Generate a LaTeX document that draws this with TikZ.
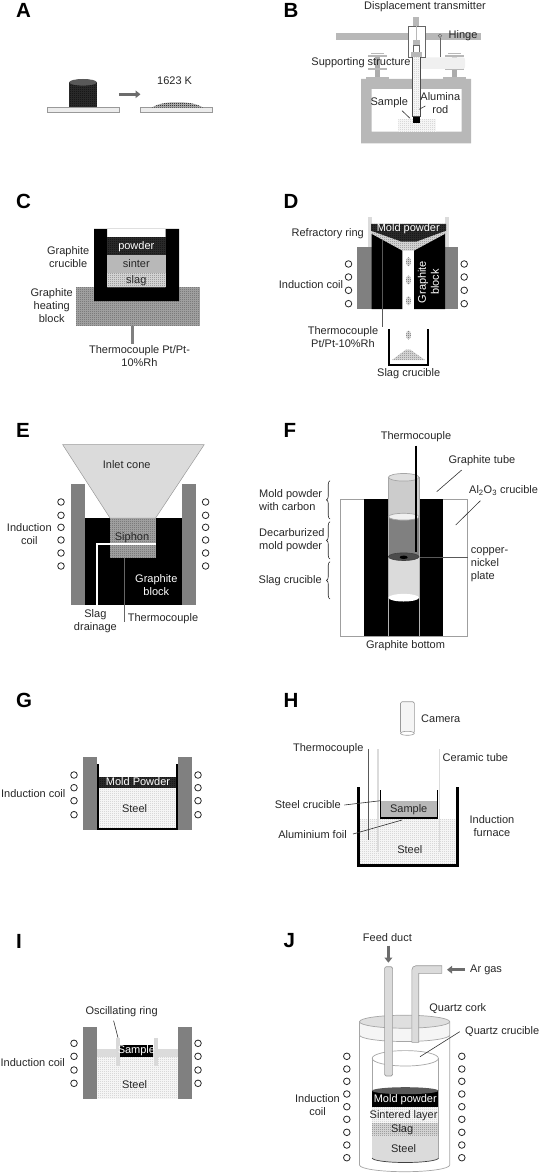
\documentclass[tikz,border=0pt]{standalone}
\usepackage{fontspec}
\setmainfont{Liberation Sans}
\usepackage{tikz}
\usetikzlibrary{patterns,arrows.meta,decorations.pathreplacing}
\pgfdeclarepatternformonly{finedots}{\pgfpointorigin}{\pgfqpoint{2pt}{2pt}}{\pgfqpoint{2pt}{2pt}}{%
  \pgfpathrectangle{\pgfqpoint{0pt}{0pt}}{\pgfqpoint{1pt}{1pt}}\pgfusepath{fill}}
\definecolor{gsteel}{gray}{0.5}
\definecolor{gframe}{gray}{0.72}
\definecolor{gpale}{gray}{0.86}
\definecolor{gdark}{gray}{0.16}

\begin{document}
\begin{tikzpicture}[
    x=1pt, y=-1pt,
    font=\fontsize{11}{13}\selectfont,
    lbl/.style={inner sep=0pt, align=center, text=black!85},
    lblw/.style={inner sep=0pt, align=center, text=white},
    tag/.style={inner sep=0pt, anchor=west, font=\fontsize{20.5}{24}\selectfont\bfseries},
    coil/.style={circle, draw=black!85, fill=white, line width=0.8pt, minimum size=6.6pt, inner sep=0pt},
    steel/.style={fill=gray!8, postaction={pattern=finedots, pattern color=gray!60}},
    slag/.style={fill=gray!35, postaction={pattern=finedots, pattern color=black!65}},
    block/.style={fill=gray!75, postaction={pattern=finedots, pattern color=black!70}},
    darkmix/.style={fill=gdark, postaction={pattern=finedots, pattern color=black}},
    tube/.style={draw=gray!80, fill=gpale, line width=0.6pt},
    shell/.style={draw=gray!70, line width=0.7pt},
    leader/.style={draw=black!80, line width=0.6pt},
    crucible/.style={draw=black, line width=1.9pt},
    fatarrow/.style={-{Triangle[length=5pt,width=7.5pt]}, draw=gray!85!black, line width=2.6pt},
    curly/.style={decorate, decoration={brace, amplitude=3.5pt}, draw=black!85, line width=0.6pt}
]
\useasboundingbox (0,0) rectangle (540,1174);

% === PANEL A ===
\node[tag] (tagA) at (16,10) {A};
\path[darkmix] (69.2,82.3) rectangle (96.8,107.7);
\fill[gray!70!black] (83,82.3) ellipse (13.8 and 3.3);
\fill[gray!15, draw=gray!80] (46.8,107.7) rectangle (119,112.3);
\fill[gray!15, draw=gray!80] (139.8,107.7) rectangle (212,112.3);
\path[fill=gray!70, postaction={pattern=finedots, pattern color=black}] (151.5,107.7) .. controls (160,102.5) and (170,102.3) .. (177,102.3) .. controls (186,102.3) and (196,103) .. (203.2,107.7) -- cycle;
\coordinate (arrowAin) at (118.8,94.3);
\coordinate (arrowAout) at (140.5,94.3);
\draw[fatarrow] (arrowAin) -- (arrowAout);
\node[lbl] (lblTemp) at (174.6,81) {1623 K};

% === PANEL B ===
\node[tag] (tagB) at (283.5,10) {B};
\node[lbl] (lblTrans) at (425,6.7) {Displacement transmitter};
\fill[gframe] (336,33) rectangle (481,40);
\fill[gframe] (413,17.3) rectangle (419.3,26);
\foreach \bx in {377.3,454} {
    \fill[gframe] (\bx-6.5,52.7) rectangle (\bx+6.5,54.5);
    \fill[gframe] (\bx-9.5,55.3) rectangle (\bx+9.5,57.3);
    \fill[gray!65] (\bx-2.5,57.3) rectangle (\bx+2.5,68);
    \fill[gframe] (\bx-9.5,68.3) rectangle (\bx+9.5,70.3);
    \fill[gray!65] (\bx-2.5,70.3) rectangle (\bx+2.5,77.3);
    \fill[gframe] (\bx-11.5,77.3) rectangle (\bx+11.5,79);
}
\fill[gray!12, rounded corners=2pt] (420,57.3) rectangle (465,69);
% frame
\fill[gframe, even odd rule] (361,79) rectangle (471,143.3) (371.7,89) rectangle (461.7,131.7);
\path[steel] (398.3,119.3) rectangle (435.7,131.7);
% rod and transmitter
\draw[gray!80!black, line width=0.6pt, fill=white] (408,26) rectangle (425,57.3);
\draw[gframe, line width=0.6pt] (416.2,26) -- (416.2,40);
\fill[gframe] (413.3,40) rectangle (419.5,45);
\draw[gray!80!black, line width=0.5pt, fill=white] (413.5,45) rectangle (419.5,55);
\fill[gframe] (410.7,52) rectangle (421.7,56.7);
\path[steel] (412.7,57) rectangle (420,116);
\draw[black!70, line width=0.5pt] (412.7,57) -- (412.7,116) -- (420,116) -- (420,57);
\fill[black] (412.7,116.7) rectangle (420,123.3);
% hinge
\node[circle, draw=gray!80!black, line width=0.5pt, minimum size=3.6pt, inner sep=0pt] (hingePin) at (440,35.7) {};
\coordinate (hingeFoot) at (440,57.3);
\draw[gray!80!black, line width=0.6pt] (hingePin) -- (hingeFoot);
\node[lbl] (lblHinge) at (463,36) {Hinge};
\node[lbl, anchor=east] (lblSupport) at (410.7,62.7) {Supporting structure};
\node[lbl] (lblSample) at (389.3,102.3) {Sample};
\node[lbl] (lblAlumina) at (440.3,103) {Alumina\\rod};
\coordinate (sampleTip) at (410,118.3);
\coordinate (sampleEnd) at (402,110.7);
\coordinate (rodTip) at (419.3,109.3);
\coordinate (rodEnd) at (425.3,106);
\draw[leader] (sampleEnd) -- (sampleTip);
\draw[leader] (rodEnd) -- (rodTip);

% === PANEL C ===
\node[tag] (tagC) at (16,201.5) {C};
\path[block] (75.8,286.7) rectangle (199.7,325.7);
\fill[black, even odd rule] (94,229) rectangle (179,301) (107,229) rectangle (165.6,287.3);
\path[darkmix] (107,237.3) rectangle (165.6,255.3);
\fill[gframe] (107,255.3) rectangle (165.6,272.7);
\path[slag] (107,272.7) rectangle (165.6,287.3);
\node[lblw] (lblPowder) at (136.3,246.3) {powder};
\node[lbl] (lblSinter) at (136.3,264) {sinter};
\node[lbl] (lblSlagC) at (136.3,281) {slag};
\fill[gsteel] (131.2,325.7) rectangle (134.3,344);
\node[lbl] (lblCrucC) at (68.2,257.3) {Graphite\\crucible};
\node[lbl] (lblHeat) at (51.7,305.3) {Graphite\\heating\\block};
\node[lbl] (lblTcC) at (139.5,356.2) {Thermocouple Pt/Pt-\\10\%Rh};

% === PANEL D ===
\node[tag] (tagD) at (283.5,201.5) {D};
\fill[gpale] (367.7,217.3) rectangle (371.7,246.7);
\fill[gpale] (445,217.3) rectangle (449,246.7);
\fill[gsteel] (357.3,246.7) rectangle (371.7,309);
\fill[gsteel] (445,246.7) rectangle (457.7,309);
\path[slag] (371,230.7) -- (401.7,241.7) -- (416,241.7) -- (446,230.7) -- (446,234) -- (414,250.7) -- (402.3,250.7) -- (371.7,234) -- cycle;
\path[darkmix] (371,224) -- (446,224) -- (446,230.7) -- (416,241.7) -- (401.7,241.7) -- (371,230.7) -- cycle;
\fill[black] (371.7,234) -- (402.3,250.7) -- (402.3,309) -- (371.7,309) -- cycle;
\fill[black] (445,234) -- (414,250.7) -- (414,309) -- (445,309) -- cycle;
\foreach \dy in {261.7,280,300.7,335} {
    \path[slag] (408.5,\dy) ellipse (2.5 and 4.5);
}
\path[slag] (392,360) -- (406,349.5) -- (410,349.5) -- (425,360) -- cycle;
\coordinate (sCupA) at (389,329.3);
\coordinate (sCupB) at (389,365);
\coordinate (sCupC) at (428.3,365);
\coordinate (sCupD) at (428.3,329.3);
\draw[crucible] (sCupA) -- (sCupB) -- (sCupC) -- (sCupD);
\coordinate (tcTopD) at (382.3,240);
\coordinate (tcEndD) at (382.3,326.7);
\draw[gray!70!black, line width=1.1pt] (tcTopD) -- (tcEndD);
\node[lblw] (lblMoldD) at (408.3,228.5) {Mold powder};
\node[lblw, rotate=90, align=center] (lblBlockD) at (428.5,282) {Graphite\\block};
\node[lbl, anchor=east] (lblRing) at (364,233.3) {Refractory ring};
\node[lbl] (lblCoilD) at (311,284.3) {Induction coil};
\node[lbl] (lblTcD) at (343,336.7) {Thermocouple\\Pt/Pt-10\%Rh};
\node[lbl] (lblCupD) at (408.7,374) {Slag crucible};
\foreach \yc [count=\i] in {264,277,290.3,303.7} {
    \node[coil] (coilDl\i) at (348.5,\yc) {};
    \node[coil] (coilDr\i) at (464.2,\yc) {};
}

% === PANEL E ===
\node[tag] (tagE) at (16,430.5) {E};
\fill[gsteel] (71.3,484.3) rectangle (85,605);
\fill[gsteel] (181.8,484.3) rectangle (195.6,605);
\fill[black] (85,518) rectangle (181.8,605);
\path[block] (109.5,518) rectangle (155.6,558.3);
\draw[gray!80, fill=gpale, line width=0.5pt] (62.7,444.7) -- (204.2,444.7) -- (155.6,518) -- (110,518) -- cycle;
\coordinate (drainIn) at (155.6,543.7);
\coordinate (drainBend) at (97.1,543.7);
\coordinate (drainOut) at (97.1,605);
\draw[white, line width=2.4pt] (drainIn) -- (drainBend) -- (drainOut);
\node[lbl] (lblCone) at (126.7,465) {Inlet cone};
\node[lbl] (lblSiphon) at (132,537.3) {Siphon};
\node[lblw] (lblBlockE) at (156.3,584.8) {Graphite\\block};
\node[lbl] (lblDrain) at (95.4,621) {Slag\\drainage};
\node[lbl] (lblTcE) at (163,618.3) {Thermocouple};
\node[lbl] (lblCoilE) at (29.3,534.2) {Induction\\coil};
\coordinate (tcTopE) at (124.3,558.3);
\coordinate (tcEndE) at (124.3,622);
\draw[gray!80!black, line width=0.9pt] (tcTopE) -- (tcEndE);
\foreach \yc [count=\i] in {502,515.3,527.3,540,553,566} {
    \node[coil] (coilEl\i) at (61,\yc) {};
    \node[coil] (coilEr\i) at (205.6,\yc) {};
}

% === PANEL F ===
\node[tag] (tagF) at (283.5,430.5) {F};
\draw[gray!75, line width=0.7pt] (339.9,499) rectangle (467.3,636);
\fill[black] (364,499) rectangle (443.3,636);
% tube sections
\draw[shell, fill=gray!40] (388.3,477.3) -- (388.3,516.7) -- (419,516.7) -- (419,477.3);
\draw[shell, fill=gray!25] (403.7,477.3) ellipse (15.3 and 3.8);
\fill[gsteel] (388.3,516.7) rectangle (419,556.7);
\draw[shell, fill=gray!12] (403.7,516.7) ellipse (15.3 and 3.4);
\fill[gpale] (388.3,556.7) rectangle (419,597.7);
\draw[gray!60, line width=0.6pt] (388.3,516.7) -- (388.3,597.7) (419,516.7) -- (419,597.7);
\draw[black!75, fill=gray!60!black, line width=0.6pt] (403.7,556.7) ellipse (15.3 and 3.8);
\fill[black] (403.7,557.3) ellipse (4 and 1.7);
\fill[white] (403.7,597.7) ellipse (15.3 and 3.8);
\draw[gray!60, line width=0.6pt] (388.3,597.7) -- (388.3,636) (419,597.7) -- (419,636);
\node[lbl] (lblTcF) at (416,436.7) {Thermocouple};
\coordinate (tcTipF) at (416,551.7);
\draw[black, line width=1.1pt] (lblTcF.south) ++(0,3.5) -- (tcTipF);
\node[lbl] (lblTubeF) at (482,461) {Graphite tube};
\node[lbl] (lblAl) at (503.6,490.7) {Al\textsubscript{2}O\textsubscript{3} crucible};
\node[lbl, align=left, anchor=west] (lblPlate) at (470.7,564.3) {copper-\\nickel\\plate};
\node[lbl] (lblBottom) at (405.6,646) {Graphite bottom};
\node[lbl, align=left, anchor=west] (lblCarbon) at (259,500.3) {Mold powder\\with carbon};
\node[lbl, align=left, anchor=west] (lblDecarb) at (259,540.2) {Decarburized\\mold powder};
\node[lbl, anchor=west] (lblSlagF) at (258.5,580.7) {Slag crucible};
\coordinate (tubeEnd) at (461.7,470);
\coordinate (tubeTip) at (436.7,491.7);
\coordinate (alEnd) at (480.4,500.7);
\coordinate (alTip) at (455.7,525);
\coordinate (plateTip) at (420,557.3);
\coordinate (plateEnd) at (468.3,557.3);
\draw[leader] (tubeEnd) -- (tubeTip);
\draw[leader] (alEnd) -- (alTip);
\draw[gray!70!black, line width=0.8pt] (plateTip) -- (plateEnd);
\coordinate (braceAbot) at (330,519);
\coordinate (braceAtop) at (330,480.7);
\coordinate (braceBbot) at (330,559);
\coordinate (braceBtop) at (330,521.7);
\coordinate (braceCbot) at (330,599);
\coordinate (braceCtop) at (330,561.7);
\draw[curly] (braceAbot) -- (braceAtop);
\draw[curly] (braceBbot) -- (braceBtop);
\draw[curly] (braceCbot) -- (braceCtop);

% === PANEL G ===
\node[tag] (tagG) at (16,700) {G};
\fill[gsteel] (83.3,757.3) rectangle (97,830);
\fill[gsteel] (177.7,757.3) rectangle (191.5,830);
\path[steel] (98,788.3) rectangle (176.6,829);
\path[darkmix] (98,776.7) rectangle (176.6,788.3);
\coordinate (cupGa) at (98,764.3);
\coordinate (cupGb) at (98,829);
\coordinate (cupGc) at (176.6,829);
\coordinate (cupGd) at (176.6,764.3);
\draw[crucible] (cupGa) -- (cupGb) -- (cupGc) -- (cupGd);
\node[lblw] (lblMoldG) at (138,781.7) {Mold Powder};
\node[lbl] (lblSteelG) at (134.6,809) {Steel};
\node[lbl] (lblCoilG) at (33.2,794) {Induction coil};
\foreach \yc [count=\i] in {775,787.7,800.7,814.7} {
    \node[coil] (coilGl\i) at (74,\yc) {};
    \node[coil] (coilGr\i) at (198,\yc) {};
}

% === PANEL H ===
\node[tag] (tagH) at (283.5,700) {H};
\path[steel] (358,819.3) rectangle (458,866);
\draw[tube, fill=gray!8, rounded corners=1.5pt] (400.5,701.7) -- (414.3,701.7) -- (414.3,733.3) -- (400.5,733.3) -- cycle;
\draw[tube, fill=white] (407.4,733.3) ellipse (6.9 and 2);
\node[lbl, anchor=west] (lblCamera) at (421,719) {Camera};
\fill[gframe] (380.5,800.7) rectangle (437.3,817.3);
\draw[gray!70!black, line width=0.9pt] (368,749) -- (368,840);
\draw[gpale, line width=1.8pt] (378,749) -- (378,851.7);
\draw[gpale, line width=1.8pt] (439.4,749) -- (439.4,851.7);
\coordinate (cupHa) at (380.5,790);
\coordinate (cupHb) at (380.5,818);
\coordinate (cupHc) at (437.3,818);
\coordinate (cupHd) at (437.3,790);
\draw[black, line width=1.2pt] (cupHa) -- (cupHb) -- (cupHc) -- (cupHd);
\coordinate (furnA) at (358.5,787.3);
\coordinate (furnB) at (358.5,865.5);
\coordinate (furnC) at (457.5,865.5);
\coordinate (furnD) at (457.5,787.3);
\draw[black, line width=2.5pt] (furnA) -- (furnB) -- (furnC) -- (furnD);
\node[lbl] (lblSampleH) at (408.7,809.3) {Sample};
\node[lbl] (lblSteelH) at (409.8,849.7) {Steel};
\node[lbl, anchor=east] (lblTcH) at (363.6,748.3) {Thermocouple};
\node[lbl, anchor=west] (lblCeramic) at (442.5,757.7) {Ceramic tube};
\node[lbl, anchor=east] (lblCupH) at (341,805) {Steel crucible};
\node[lbl, anchor=east] (lblFoil) at (347,834.7) {Aluminium foil};
\node[lbl, anchor=west] (lblFurn) at (469.4,826.3) {Induction\\furnace};
\coordinate (cupTip) at (380.5,800.7);
\coordinate (foilTip) at (402,820);
\draw[leader] (lblCupH.east) ++(3.4,0) -- (cupTip);
\draw[leader] (lblFoil.east) ++(6,-0.7) -- (foilTip);

% === PANEL I ===
\node[tag] (tagI) at (16,941) {I};
\fill[gsteel] (83.3,1026.7) rectangle (97,1098.7);
\fill[gsteel] (177.7,1026.7) rectangle (191.5,1098.7);
\path[steel] (97,1056.7) rectangle (177.7,1098.7);
\fill[gpale] (97,1049) rectangle (177.7,1056.7);
\fill[gray!30] (115.7,1037.7) rectangle (119.5,1066);
\fill[gray!30] (154.3,1037.7) rectangle (158,1066);
\fill[black] (119.5,1045) rectangle (152.9,1057.3);
\node[lblw] (lblSampleI) at (136.4,1051) {Sample};
\node[lbl] (lblSteelI) at (134.6,1084.3) {Steel};
\node[lbl] (lblRingI) at (121.6,1011.3) {Oscillating ring};
\node[lbl] (lblCoilI) at (32.7,1063) {Induction coil};
\coordinate (ringEnd) at (113.6,1020.7);
\coordinate (ringTip) at (118,1037.7);
\draw[leader] (ringEnd) -- (ringTip);
\foreach \yc [count=\i] in {1043.3,1056.3,1070,1083.3} {
    \node[coil] (coilIl\i) at (74,\yc) {};
    \node[coil] (coilIr\i) at (198,\yc) {};
}

% === PANEL J ===
\node[tag] (tagJ) at (283.5,941) {J};
% outer vessel
\draw[shell, fill=white] (359.5,1035) -- (359.5,1165) arc[start angle=180, end angle=0, x radius=45.1, y radius=6.7] -- (449.7,1035);
\draw[shell, fill=gray!8] (359.5,1021.7) -- (359.5,1035) arc[start angle=180, end angle=0, x radius=45.1, y radius=6.5] -- (449.7,1021.7);
\draw[shell, fill=gray!25] (404.6,1021.7) ellipse (45.1 and 6.5);
% inner crucible
\draw[shell, fill=white] (372.2,1058.3) -- (372.2,1158) -- (438.4,1158) -- (438.4,1058.3);
\fill[gpale] (372.2,1135) rectangle (438.4,1158);
\fill[gpale] (405.3,1158) ellipse (33.1 and 4.5);
\draw[black!75, line width=0.7pt] (372.2,1158) arc[start angle=180, end angle=0, x radius=33.1, y radius=4.5];
\path[slag] (372.2,1123.3) rectangle (438.4,1135);
\path[steel] (372.2,1106.7) rectangle (438.4,1123.3);
\fill[black] (372.2,1090.7) rectangle (438.4,1106.7);
\fill[gray!70!black] (405.3,1090.7) ellipse (33.1 and 3.5);
\draw[shell] (405.3,1058.3) ellipse (33.1 and 7.7);
% ducts
\draw[tube, rounded corners=1.5pt] (384.6,966.7) -- (392.6,966.7) -- (392.6,1076) -- (384.6,1076) -- cycle;
\draw[tube] (441.8,965.7) -- (416,965.7) to[out=180, in=90] (411.8,970) -- (411.8,1042.3) -- (418.7,1042.3) -- (418.7,973.3) -- (441.8,973.3) -- cycle;
\node[lbl] (lblFeed) at (387.4,937.7) {Feed duct};
\node[lbl, anchor=west] (lblAr) at (470,969.7) {Ar gas};
\node[lbl] (lblCork) at (457.8,1008.3) {Quartz cork};
\node[lbl, anchor=west] (lblQuartz) at (465,1031.3) {Quartz crucible};
\node[lbl] (lblCoilJ) at (317.5,1105.2) {Induction\\coil};
\node[lblw] (lblMoldJ) at (405.3,1099.3) {Mold powder};
\node[lbl] (lblSint) at (403.6,1115.3) {Sintered layer};
\node[lbl] (lblSlagJ) at (402.2,1130) {Slag};
\node[lbl] (lblSteelJ) at (403.6,1148.7) {Steel};
\coordinate (feedTip) at (388.4,962.7);
\coordinate (feedTail) at (388.4,945.7);
\coordinate (argTip) at (447,969.7);
\coordinate (argTail) at (465,969.7);
\draw[fatarrow] (feedTail) -- (feedTip);
\draw[fatarrow] (argTail) -- (argTip);
\coordinate (quartzEnd) at (459.7,1031.7);
\coordinate (quartzTip) at (420,1056.7);
\draw[leader] (quartzEnd) -- (quartzTip);
\foreach \yc [count=\i] in {1056.3,1069,1081.3,1094,1106.7,1119.3,1132.3,1145,1157.7} {
    \node[coil] (coilJl\i) at (346.8,\yc) {};
    \node[coil] (coilJr\i) at (461.8,\yc) {};
}

\end{tikzpicture}
\end{document}
